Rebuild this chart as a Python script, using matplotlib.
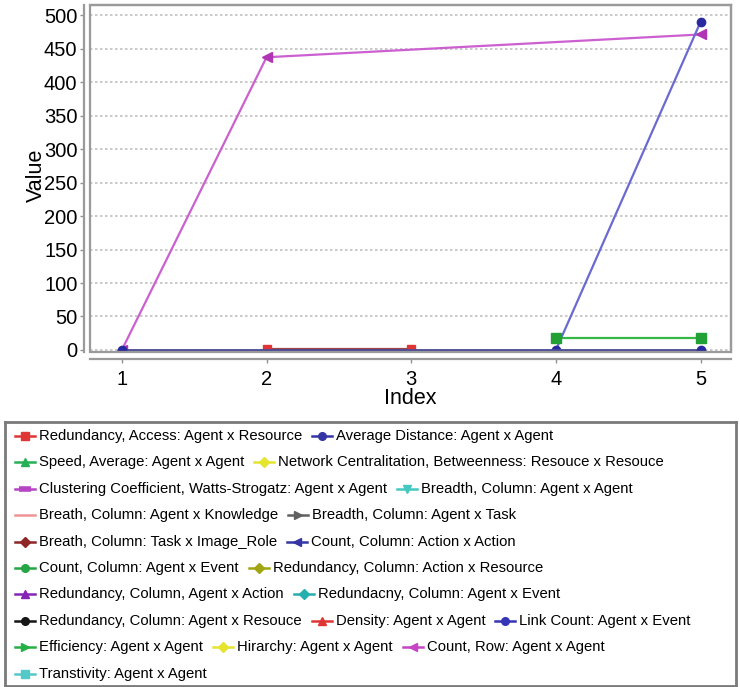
import numpy as np
import matplotlib
matplotlib.use("Agg")
import matplotlib.pyplot as plt
from matplotlib.lines import Line2D
from matplotlib.patches import Rectangle

plt.rcParams['font.family'] = ['Liberation Sans', 'DejaVu Sans']

# index positions and measured values (nan = no observation)
index = np.array([1, 2, 3, 4, 5])
count_row = np.array([0, 437, np.nan, np.nan, 471])
link_count = np.array([np.nan, np.nan, np.nan, 0, 490])
count_col_event = np.array([np.nan, np.nan, np.nan, 18, 18])
redundancy_access = np.array([np.nan, 1, 1, np.nan, np.nan])
average_distance = np.array([0, np.nan, np.nan, np.nan, 0])

# legend entries: label, colour, marker, grouped by row of the key
legend_rows = [
    [("Redundancy, Access: Agent x Resource", "#e03535", "s"),
     ("Average Distance: Agent x Agent", "#3535a5", "o")],
    [("Speed, Average: Agent x Agent", "#25b055", "^"),
     ("Network Centralitation, Betweenness: Resouce x Resouce", "#e5e530", "D")],
    [("Clustering Coefficient, Watts-Strogatz: Agent x Agent", "#b545c5", "_"),
     ("Breadth, Column: Agent x Agent", "#45c8c0", "v")],
    [("Breath, Column: Agent x Knowledge", "#f09595", ""),
     ("Breadth, Column: Agent x Task", "#606060", ">")],
    [("Breath, Column: Task x Image_Role", "#902525", "D"),
     ("Count, Column: Action x Action", "#3535a5", "<")],
    [("Count, Column: Agent x Event", "#25a545", "o"),
     ("Redundancy, Column: Action x Resource", "#a0a510", "D")],
    [("Redundancy, Column, Agent x Action", "#8525b5", "^"),
     ("Redundacny, Column: Agent x Event", "#25b0b0", "D")],
    [("Redundancy, Column: Agent x Resouce", "#151515", "o"),
     ("Density: Agent x Agent", "#e03535", "^"),
     ("Link Count: Agent x Event", "#3535b5", "o")],
    [("Efficiency: Agent x Agent", "#25b045", ">"),
     ("Hirarchy: Agent x Agent", "#e5e530", "D"),
     ("Count, Row: Agent x Agent", "#c545c5", "<")],
    [("Transtivity: Agent x Agent", "#55c8c8", "s")],
]

W, H = 740, 687
fig = plt.figure(figsize=(W / 100, H / 100), dpi=100)

# main plot area (pixel box converted to figure fractions)
left, right, top, bottom = 90, 731, 5, 352
ax = fig.add_axes([left / W, 1 - bottom / H, (right - left) / W, (bottom - top) / H])
ax.set_xlim(0.78, 5.21)
ax.set_ylim(-3, 515)

def plot_series(y, color, marker, ms, lw=1.6, mfc=None):
    m = np.isfinite(y)
    ax.plot(index[m], y[m], color=color, lw=lw, marker=marker, ms=ms,
            mfc=mfc or color, mec=mfc or color, zorder=3)

plot_series(count_row, "#cc60d0", "<", 7, mfc="#b035b5")
plot_series(link_count, "#6a6ad0", "o", 6, mfc="#2a2aa0")
plot_series(count_col_event, "#35b845", "s", 7.5, mfc="#20a035")
plot_series(redundancy_access, "#a04545", "s", 5.5, mfc="#e03535")
plot_series(average_distance, "#4a4a98", "o", 6, lw=2, mfc="#2a2aa0")

ax.set_yticks(np.arange(0, 501, 50))
ax.set_xticks(index)
ax.yaxis.grid(True, color="#c0c0c0", ls=(0, (1.5, 1.5)), lw=1.2)
ax.set_axisbelow(True)
ax.tick_params(labelsize=14.5, length=3, width=1, color="#909090", pad=2)
ax.tick_params(axis="x", pad=5)

for side in ["top", "right", "left", "bottom"]:
    ax.spines[side].set_color("#9a9a9a")
    ax.spines[side].set_linewidth(1.6)
ax.spines["left"].set_position(("outward", 4))
ax.spines["bottom"].set_position(("outward", 5))
ax.add_patch(Rectangle((0, 0), 1, 1, transform=ax.transAxes, fill=False,
                       ec="#9a9a9a", lw=1.6, clip_on=False, zorder=4))

ax.set_ylabel("Value", fontsize=15.5)
ax.set_xlabel("Index", fontsize=15.5)
ax.yaxis.set_label_coords(-0.068, 0.51)
ax.xaxis.set_label_coords(0.5, -0.105)

# flowing key below the plot, laid out in pixel units
lx0, ly0, lx1, ly1 = 5, 422, 736, 686
lax = fig.add_axes([lx0 / W, 1 - ly1 / H, (lx1 - lx0) / W, (ly1 - ly0) / H])
lax.set_xlim(0, lx1 - lx0)
lax.set_ylim(ly1 - ly0, 0)
lax.set_xticks([])
lax.set_yticks([])
for s in lax.spines.values():
    s.set_color("#7a7a7a")
    s.set_linewidth(2)

renderer = fig.canvas.get_renderer()
row_y0, row_step = 14, 26.4
for r, row in enumerate(legend_rows):
    y = row_y0 + r * row_step
    x = 10
    for label, color, marker in row:
        ms, mew = 5.5, 1
        if marker == "_":
            ms, mew = 9, 4
        lax.add_line(Line2D([x, x + 20], [y, y], color=color, lw=1.8))
        lax.add_line(Line2D([x + 10], [y], ls="", marker=marker, ms=ms,
                            mew=mew, mfc=color, mec=color))
        t = lax.text(x + 24, y, label, fontsize=10.7, va="center", ha="left")
        x += 24 + t.get_window_extent(renderer).width + 10

fig.savefig("out.png", dpi=100)
